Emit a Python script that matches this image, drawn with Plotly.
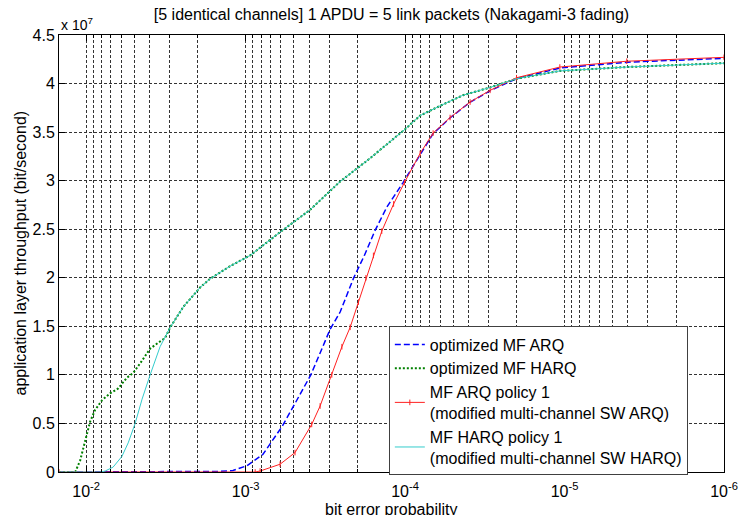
import plotly.graph_objects as go

# ---------------- data ----------------
# x: bit error probability, y: throughput in units of 1e7 bit/s
arq_opt_p = [1.48e-2, 4.0e-3, 1.9e-3, 1.45e-3, 1.2e-3, 9.8e-4, 7.8e-4, 5.9e-4, 5.0e-4,
             3.9e-4, 2.95e-4, 2.55e-4, 2.1e-4, 1.8e-4, 1.55e-4, 1.3e-4, 1.03e-4, 8.0e-5,
             6.7e-5, 5.2e-5, 3.9e-5, 2.9e-5, 2.0e-5, 1.07e-5, 4.0e-6, 1.0e-6]
arq_opt_y = [0.0, 0.0, 0.002, 0.006, 0.015, 0.065, 0.18, 0.47, 0.68,
             1.0, 1.47, 1.65, 2.0, 2.23, 2.48, 2.73, 2.98, 3.27,
             3.48, 3.65, 3.81, 3.93, 4.05, 4.16, 4.22, 4.26]

harq_opt_p = [1.48e-2, 1.17e-2, 1.09e-2, 1.01e-2, 9.44e-3, 8.78e-3, 7.94e-3, 7.08e-3, 6.30e-3,
              5.56e-3, 5.07e-3, 4.58e-3, 3.97e-3, 3.54e-3, 3.20e-3, 2.97e-3, 2.46e-3, 1.93e-3,
              1.67e-3, 1.25e-3, 9.37e-4, 6.08e-4, 3.94e-4, 2.56e-4, 1.66e-4, 1.0e-4, 8.05e-5,
              6.04e-5, 4.33e-5, 2.93e-5, 2.0e-5, 1.07e-5, 4.07e-6, 1.0e-6]
harq_opt_y = [0.0, 0.0, 0.12, 0.32, 0.52, 0.64, 0.74, 0.81, 0.86,
              0.97, 1.02, 1.12, 1.27, 1.33, 1.38, 1.49, 1.70, 1.90,
              1.99, 2.12, 2.23, 2.47, 2.70, 2.99, 3.23, 3.53, 3.67,
              3.77, 3.88, 3.96, 4.05, 4.13, 4.17, 4.21]

arq_pol_p = [1.48e-2, 8.71e-4, 8.11e-4, 6.08e-4, 4.90e-4, 3.85e-4, 3.41e-4, 2.88e-4, 2.49e-4,
             2.21e-4, 1.96e-4, 1.76e-4, 1.58e-4, 1.40e-4, 1.18e-4, 1.01e-4, 8.05e-5, 6.67e-5,
             5.22e-5, 3.91e-5, 2.93e-5, 2.0e-5, 1.07e-5, 4.07e-6, 1.0e-6]
arq_pol_y = [0.0, 0.0, 0.01, 0.08, 0.20, 0.49, 0.68, 1.00, 1.29,
             1.49, 1.75, 2.0, 2.23, 2.48, 2.76, 2.98, 3.28, 3.49,
             3.65, 3.81, 3.93, 4.06, 4.17, 4.23, 4.27]

harq_pol_p = [1.48e-2, 8.17e-3, 7.60e-3, 6.78e-3, 5.97e-3, 5.45e-3, 4.93e-3, 4.46e-3, 3.97e-3,
              3.44e-3, 2.97e-3, 2.46e-3, 1.93e-3, 1.67e-3, 1.25e-3, 9.37e-4, 6.08e-4, 3.94e-4,
              2.56e-4, 1.66e-4, 1.0e-4, 8.05e-5, 6.04e-5, 4.33e-5, 2.93e-5, 2.0e-5, 1.07e-5,
              4.07e-6, 1.0e-6]
harq_pol_y = [0.0, 0.0, 0.01, 0.05, 0.16, 0.30, 0.50, 0.75, 1.0,
              1.29, 1.49, 1.70, 1.90, 1.99, 2.12, 2.23, 2.47, 2.70,
              2.99, 3.23, 3.53, 3.67, 3.77, 3.88, 3.96, 4.05, 4.13,
              4.17, 4.21]

names = ["optimized MF ARQ", "optimized MF HARQ",
         "MF ARQ policy 1<br>(modified multi-channel SW ARQ)",
         "MF HARQ policy 1<br>(modified multi-channel SW HARQ)"]

x_tickvals = [1e-2, 1e-3, 1e-4, 1e-5, 1e-6]
x_ticktext = ["10<sup>-2</sup>", "10<sup>-3</sup>", "10<sup>-4</sup>",
              "10<sup>-5</sup>", "10<sup>-6</sup>"]
x_minorvals = [m * d for d in [1e-2, 1e-3, 1e-4, 1e-5, 1e-6] for m in range(2, 10)
               if m * d <= 1.48e-2]
y_tickvals = [0, 0.5, 1, 1.5, 2, 2.5, 3, 3.5, 4, 4.5]
y_ticktext = ["0", "0.5", "1", "1.5", "2", "2.5", "3", "3.5", "4", "4.5"]

FONT = "Liberation Sans, Arial, sans-serif"

fig = go.Figure()
fig.add_trace(go.Scatter(x=arq_opt_p, y=arq_opt_y, mode="lines", name=names[0],
                         line=dict(color="#0000FF", width=1.5, dash="6px,3px")))
fig.add_trace(go.Scatter(x=harq_opt_p, y=harq_opt_y, mode="lines", name=names[1],
                         line=dict(color="#008000", width=2, dash="2px,2px")))
fig.add_trace(go.Scatter(x=arq_pol_p, y=arq_pol_y, mode="lines+markers", name=names[2],
                         line=dict(color="#FF2020", width=1),
                         marker=dict(symbol="line-ns", size=4,
                                     line=dict(color="#FF2020", width=1))))
fig.add_trace(go.Scatter(x=harq_pol_p, y=harq_pol_y, mode="lines", name=names[3],
                         line=dict(color="#33CCCC", width=1)))

grid = dict(showgrid=True, gridcolor="#333333", gridwidth=1, griddash="3px,2px")

fig.update_layout(
    width=750, height=515,
    margin=dict(l=59, r=26, t=35, b=43, autoexpand=False),
    paper_bgcolor="white", plot_bgcolor="white",
    font=dict(family=FONT, size=16, color="black"),
    title=dict(text="[5 identical channels] 1 APDU = 5 link packets (Nakagami-3 fading)",
               x=0.5, xref="paper", xanchor="center",
               y=1 - 14 / 515, yref="container", yanchor="middle",
               font=dict(family=FONT, size=16, color="black")),
    xaxis=dict(type="log", range=[-1.8297, -6], tickmode="array",
               tickvals=x_tickvals, ticktext=x_ticktext,
               ticks="inside", ticklen=6, tickcolor="black",
               ticklabelstandoff=5, automargin=False,
               showline=True, linecolor="black", linewidth=1, mirror="ticks",
               zeroline=False,
               minor=dict(tickmode="array", tickvals=x_minorvals, ticks="inside",
                          ticklen=3, tickcolor="black", showgrid=True,
                          gridcolor="#333333", gridwidth=1, griddash="3px,2px"),
               **grid),
    yaxis=dict(range=[0, 4.5], tickmode="array",
               tickvals=y_tickvals, ticktext=y_ticktext,
               ticks="inside", ticklen=6, tickcolor="black",
               automargin=False,
               showline=True, linecolor="black", linewidth=1, mirror="ticks",
               zeroline=False,
               **grid),
    legend=dict(x=0.496, y=0.333, xanchor="left", yanchor="top",
                bgcolor="white", bordercolor="#404040", borderwidth=1,
                font=dict(family=FONT, size=16, color="black"),
                tracegroupgap=0),
    showlegend=True,
)

fig.add_annotation(text="x 10<sup>7</sup>", xref="paper", yref="paper",
                   x=0, y=1, xanchor="left", yanchor="bottom", showarrow=False,
                   font=dict(family=FONT, size=14, color="black"), yshift=0)
fig.add_annotation(text="bit error probability", xref="paper", yref="paper",
                   x=0.5, y=0, yshift=-37, xanchor="center", yanchor="middle",
                   showarrow=False, font=dict(family=FONT, size=16, color="black"))
fig.add_annotation(text="application layer throughput (bit/second)", xref="paper",
                   yref="paper", x=0, xshift=-39, y=0.5, xanchor="center",
                   yanchor="middle", textangle=-90, showarrow=False,
                   font=dict(family=FONT, size=16, color="black"))

fig.write_html("out.html")
